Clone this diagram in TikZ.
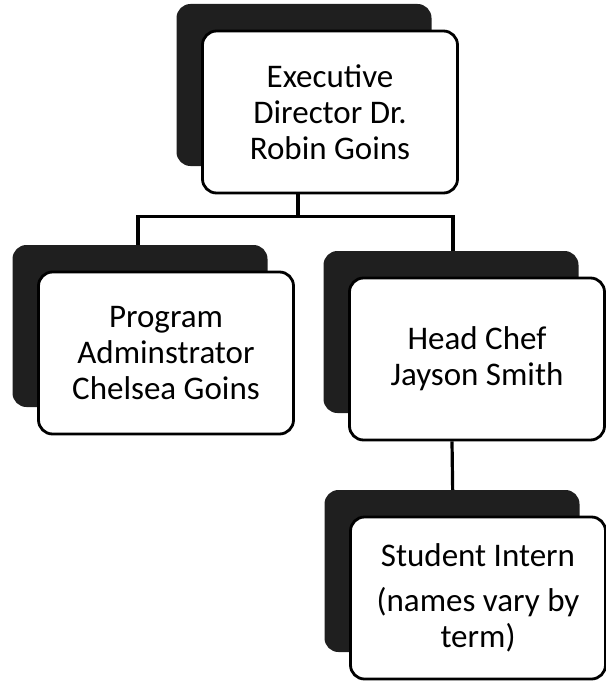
\documentclass[tikz,border=0pt]{standalone}
\usepackage{fontspec}
\setmainfont{Carlito}
\usetikzlibrary{shadows,backgrounds}

\begin{document}
\begin{tikzpicture}[x=1pt, y=-1pt,
    orgbox/.style={draw=black, line width=2.8pt, fill=white, rounded corners=14pt,
        minimum width=255pt, minimum height=162pt, align=center,
        font=\fontsize{33}{36}\selectfont,
        general shadow={fill=black!88, shadow xshift=-26pt, shadow yshift=27pt}},
    link/.style={black, line width=3.2pt}]
    \useasboundingbox (0,0) rectangle (605,682);

    \node [orgbox] (dir) at (330,112) {Executive\\Director Dr.\\Robin Goins};
    \node [orgbox] (admin) at (166,353) {Program\\Adminstrator\\Chelsea Goins};
    \node [orgbox] (chef) at (477,359) {Head Chef\\Jayson Smith};
    \node [orgbox] (intern) at (478,598) {Student Intern\\[9pt](names vary by\\term)};

    \begin{scope}[on background layer]
        \draw [link] ([xshift=-32pt]dir.south) -- ++(0,22) -| ([xshift=-28pt]admin.north);
        \draw [link] ([xshift=-32pt]dir.south) -- ++(0,22) -| ([xshift=-24pt]chef.north);
        \draw [link] ([xshift=-25pt]chef.south) -- ([xshift=-25pt]intern.north);
    \end{scope}
\end{tikzpicture}
\end{document}
